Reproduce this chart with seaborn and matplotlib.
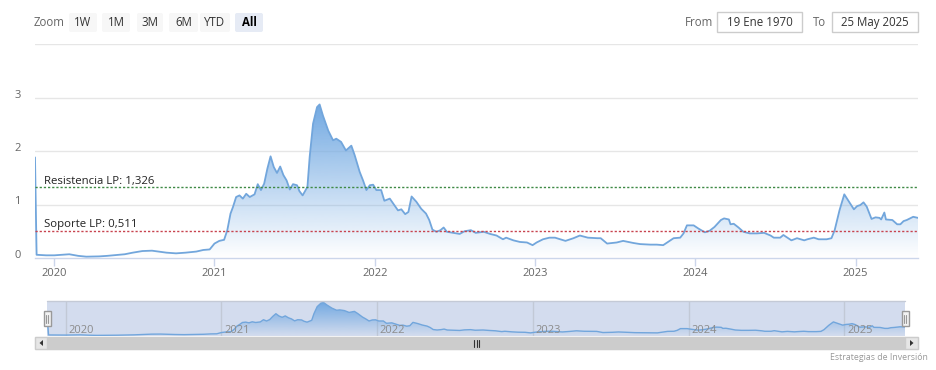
import matplotlib

matplotlib.use("Agg")

import matplotlib.pyplot as plt
import numpy as np
import pandas as pd
import seaborn as sns
from matplotlib import transforms
from matplotlib.colors import to_rgb
from matplotlib.patches import FancyBboxPatch, Polygon, Rectangle


# decimal year of each point
YEARS = [
    2019.880, 2019.890, 2019.950, 2020.000, 2020.050, 2020.094, 2020.150, 2020.200,
    2020.280, 2020.330, 2020.385, 2020.440, 2020.490, 2020.550, 2020.610, 2020.650,
    2020.700, 2020.760, 2020.820, 2020.886, 2020.930, 2020.970, 2021.000, 2021.030,
    2021.060, 2021.080, 2021.100, 2021.115, 2021.135, 2021.156, 2021.177, 2021.198,
    2021.220, 2021.250, 2021.270, 2021.290, 2021.310, 2021.330, 2021.350, 2021.370,
    2021.390, 2021.410, 2021.430, 2021.450, 2021.470, 2021.490, 2021.515, 2021.530,
    2021.550, 2021.580, 2021.594, 2021.615, 2021.640, 2021.656, 2021.677, 2021.710,
    2021.740, 2021.760, 2021.790, 2021.820, 2021.854, 2021.875, 2021.906, 2021.927,
    2021.948, 2021.969, 2021.990, 2022.010, 2022.040, 2022.060, 2022.094, 2022.145,
    2022.166, 2022.190, 2022.210, 2022.230, 2022.260, 2022.290, 2022.320, 2022.340,
    2022.360, 2022.385, 2022.410, 2022.430, 2022.450, 2022.490, 2022.530, 2022.560,
    2022.600, 2022.630, 2022.680, 2022.720, 2022.760, 2022.800, 2022.820, 2022.865,
    2022.906, 2022.950, 2022.985, 2023.010, 2023.050, 2023.090, 2023.125, 2023.190,
    2023.240, 2023.280, 2023.330, 2023.390, 2023.410, 2023.450, 2023.510, 2023.550,
    2023.615, 2023.656, 2023.720, 2023.760, 2023.800, 2023.830, 2023.865, 2023.906,
    2023.927, 2023.948, 2023.990, 2024.020, 2024.060, 2024.090, 2024.120, 2024.160,
    2024.180, 2024.210, 2024.220, 2024.240, 2024.270, 2024.300, 2024.340, 2024.385,
    2024.430, 2024.470, 2024.490, 2024.530, 2024.550, 2024.570, 2024.600, 2024.635,
    2024.680, 2024.700, 2024.740, 2024.770, 2024.820, 2024.850, 2024.870, 2024.900,
    2024.930, 2024.960, 2024.990, 2025.010, 2025.030, 2025.050, 2025.070, 2025.100,
    2025.125, 2025.150, 2025.160, 2025.180, 2025.190, 2025.230, 2025.260, 2025.280,
    2025.300, 2025.320, 2025.360, 2025.390,
]

VALUES = [
    1.88, 0.06, 0.05, 0.05, 0.06, 0.07, 0.04, 0.025,
    0.03, 0.04, 0.056, 0.07, 0.10, 0.13, 0.137, 0.12,
    0.10, 0.087, 0.10, 0.12, 0.15, 0.16, 0.27, 0.32,
    0.34, 0.52, 0.83, 0.95, 1.14, 1.17, 1.11, 1.20,
    1.14, 1.19, 1.38, 1.27, 1.39, 1.67, 1.90, 1.70,
    1.59, 1.71, 1.55, 1.45, 1.28, 1.38, 1.36, 1.25,
    1.17, 1.33, 1.89, 2.51, 2.82, 2.87, 2.66, 2.38,
    2.20, 2.23, 2.17, 2.01, 2.10, 1.92, 1.61, 1.45,
    1.27, 1.36, 1.37, 1.27, 1.27, 1.07, 1.11, 0.89,
    0.91, 0.82, 0.86, 1.15, 1.05, 0.92, 0.83, 0.71,
    0.53, 0.49, 0.52, 0.57, 0.49, 0.47, 0.45, 0.50,
    0.52, 0.47, 0.49, 0.45, 0.42, 0.35, 0.38, 0.33,
    0.30, 0.29, 0.24, 0.29, 0.35, 0.38, 0.38, 0.32,
    0.37, 0.42, 0.38, 0.37, 0.37, 0.27, 0.29, 0.32,
    0.28, 0.26, 0.25, 0.25, 0.24, 0.30, 0.37, 0.38,
    0.46, 0.61, 0.61, 0.55, 0.48, 0.51, 0.58, 0.71,
    0.74, 0.72, 0.63, 0.64, 0.57, 0.49, 0.46, 0.46,
    0.47, 0.42, 0.38, 0.38, 0.43, 0.39, 0.33, 0.37,
    0.33, 0.35, 0.38, 0.35, 0.35, 0.37, 0.52, 0.89,
    1.19, 1.05, 0.91, 0.97, 0.99, 1.04, 0.96, 0.73,
    0.76, 0.75, 0.72, 0.85, 0.72, 0.71, 0.63, 0.63,
    0.69, 0.71, 0.77, 0.75,
]

RESISTANCE = 1.326
SUPPORT = 0.511
RESISTANCE_LABEL = "Resistencia LP: 1,326"
SUPPORT_LABEL = "Soporte LP: 0,511"

YEAR_TICKS = [2020, 2021, 2022, 2023, 2024, 2025]
Y_TICKS = [0, 1, 2, 3, 4]
Y_TICK_LABELS = ["0", "1", "2", "3", ""]

ZOOM_BUTTONS = ["1W", "1M", "3M", "6M", "YTD", "All"]
DATE_FROM = "19 Ene 1970"
DATE_TO = "25 May 2025"
CREDIT = "Estrategias de Inversión"

W, H = 936, 370
LINE_COLOR = "#72a6dc"
FILL_COLOR = "#72a9e2"
MASK_COLOR = "#d3dcee"


def px_rect(x0, y0, x1, y1):
    return [x0 / W, 1 - y1 / H, (x1 - x0) / W, (y1 - y0) / H]


def gradient_fill(ax, x, y, top, color, zorder=1):
    poly = ax.fill_between(x, y, 0, color="none", lw=0)
    path = poly.get_paths()[0]
    rgba = np.zeros((256, 1, 4))
    rgba[:, :, :3] = to_rgb(color)
    rgba[:, 0, 3] = np.linspace(1.0, 0.0, 256)
    im = ax.imshow(rgba, aspect="auto", origin="upper",
                   extent=[min(x), max(x), 0, top], zorder=zorder)
    im.set_clip_path(path, transform=ax.transData)


sns.set_style("white")
plt.rcParams["font.family"] = ["Open Sans", "DejaVu Sans"]

df = pd.DataFrame({"year": YEARS, "value": VALUES})

fig = plt.figure(figsize=(W / 100, H / 100), dpi=100)
fig.patch.set_facecolor("white")

# main chart
ax = fig.add_axes(px_rect(35, 44, 918, 258))
for v in Y_TICKS[1:]:
    ax.axhline(v, color="#e6e6e6", lw=1, zorder=0)
gradient_fill(ax, df["year"], df["value"], df["value"].max(), FILL_COLOR)
sns.lineplot(data=df, x="year", y="value", ax=ax, color=LINE_COLOR, lw=1.3,
             estimator=None, zorder=3)
ax.set_xlim(YEARS[0], YEARS[-1])
ax.set_ylim(0, 4)
ax.set_xlabel("")
ax.set_ylabel("")

ax.axhline(RESISTANCE, color="#3f8a46", lw=1, ls=(0, (1.6, 1.4)), zorder=4)
ax.axhline(SUPPORT, color="#c8444f", lw=1, ls=(0, (1.6, 1.4)), zorder=4)
blend = transforms.blended_transform_factory(ax.transAxes, ax.transData)
for level, label in [(RESISTANCE, RESISTANCE_LABEL), (SUPPORT, SUPPORT_LABEL)]:
    ax.annotate(label, xy=(9 / 883, level), xycoords=blend, xytext=(0, 2.5),
                textcoords="offset points", ha="left", va="baseline",
                fontsize=8.2, color="#222222", zorder=5)

for side in ["top", "right", "left"]:
    ax.spines[side].set_visible(False)
ax.spines["bottom"].set_color("#ccd6eb")
ax.spines["bottom"].set_linewidth(1)

ax.set_xticks(YEAR_TICKS)
ax.set_xticklabels([str(y) for y in YEAR_TICKS])
ax.tick_params(axis="x", length=6, width=1, color="#ccd6eb", pad=1.5,
               labelsize=8, labelcolor="#666666", bottom=True)
ax.set_yticks(Y_TICKS)
ax.set_yticklabels(Y_TICK_LABELS)
ax.tick_params(axis="y", length=0, pad=10.5, labelsize=8, labelcolor="#666666")
shift = transforms.ScaledTranslation(0, 4 / 100, fig.dpi_scale_trans)
for lab in ax.get_yticklabels():
    lab.set_transform(lab.get_transform() + shift)

# navigator
nav = fig.add_axes(px_rect(47, 301, 905, 336))
nav.set_facecolor(MASK_COLOR)
for yr in YEAR_TICKS:
    nav.axvline(yr, color="#c2c9d6", lw=1, zorder=0)
gradient_fill(nav, df["year"], df["value"], df["value"].max(), FILL_COLOR)
sns.lineplot(data=df, x="year", y="value", ax=nav, color=LINE_COLOR, lw=1,
             estimator=None, zorder=3)
nav.set_xlim(YEARS[0], YEARS[-1])
nav.set_ylim(-0.03, 3.0)
nav.set_xticks([])
nav.set_yticks([])
nav.set_xlabel("")
nav.set_ylabel("")
for side in nav.spines:
    nav.spines[side].set_visible(False)
for yr in YEAR_TICKS:
    nav.annotate(str(yr), xy=(yr, 0.17), xycoords=("data", "axes fraction"),
                 xytext=(2, 0), textcoords="offset points", ha="left",
                 va="center", fontsize=8, color="#8c8c8c", zorder=4)

# overlay for the range selector, scrollbar and handles
ov = fig.add_axes([0, 0, 1, 1], zorder=10)
ov.set_xlim(0, W)
ov.set_ylim(H, 0)
ov.axis("off")
ov.patch.set_alpha(0)

ov.text(34, 22, "Zoom", ha="left", va="center", fontsize=8.3, color="#666666")
button_x = [69, 102, 137, 169, 200, 235]
button_w = [28, 28, 26, 29, 30, 28]
for bx, bw, label in zip(button_x, button_w, ZOOM_BUTTONS):
    selected = label == "All"
    ov.add_patch(FancyBboxPatch((bx, 13), bw, 19,
                                boxstyle="round,pad=0,rounding_size=2",
                                fc="#e6ebf5" if selected else "#f7f7f7", ec="none"))
    ov.text(bx + bw / 2, 22.5, label, ha="center", va="center", fontsize=8.3,
            color="#000000" if selected else "#333333",
            fontweight="bold" if selected else "normal")

ov.text(685, 22, "From", ha="left", va="center", fontsize=8.3, color="#666666")
ov.text(813, 22, "To", ha="left", va="center", fontsize=8.3, color="#666666")
for bx, bw, label in [(717, 85, DATE_FROM), (832, 86, DATE_TO)]:
    ov.add_patch(Rectangle((bx, 12), bw, 20, fc="white", ec="#cccccc", lw=1))
    ov.text(bx + bw / 2, 22.5, label, ha="center", va="center", fontsize=8.3,
            color="#333333")

ov.plot([47, 905], [300.5, 300.5], color="#c4cad6", lw=1)

# scrollbar
ov.add_patch(Rectangle((35, 337), 883, 12, fc="#f2f2f2", ec="#f2f2f2", lw=1))
ov.add_patch(Rectangle((47, 337), 858, 12, fc="#cccccc", ec="#cccccc", lw=1))
ov.add_patch(Rectangle((35, 337), 12, 12, fc="#e6e6e6", ec="#cccccc", lw=1))
ov.add_patch(Rectangle((905, 337), 13, 12, fc="#e6e6e6", ec="#cccccc", lw=1))
ov.add_patch(Polygon([[43, 340], [43, 346], [39.5, 343]], closed=True, fc="#333333", ec="none"))
ov.add_patch(Polygon([[910, 340], [910, 346], [913.5, 343]], closed=True, fc="#333333", ec="none"))
for gx in [474, 476.5, 479]:
    ov.plot([gx, gx], [340, 346.5], color="#333333", lw=0.8)

# navigator handles
for hx in [47, 905]:
    ov.add_patch(Rectangle((hx - 3.5, 311), 7, 15, fc="#f2f2f2", ec="#999999", lw=1))
    for dx in [-1.2, 1.2]:
        ov.plot([hx + dx, hx + dx], [314.5, 322.5], color="#999999", lw=0.8)

ov.text(928, 357, CREDIT, ha="right", va="center", fontsize=6.3, color="#999999")

fig.savefig("out.png", dpi=100, facecolor="white")
plt.close(fig)
